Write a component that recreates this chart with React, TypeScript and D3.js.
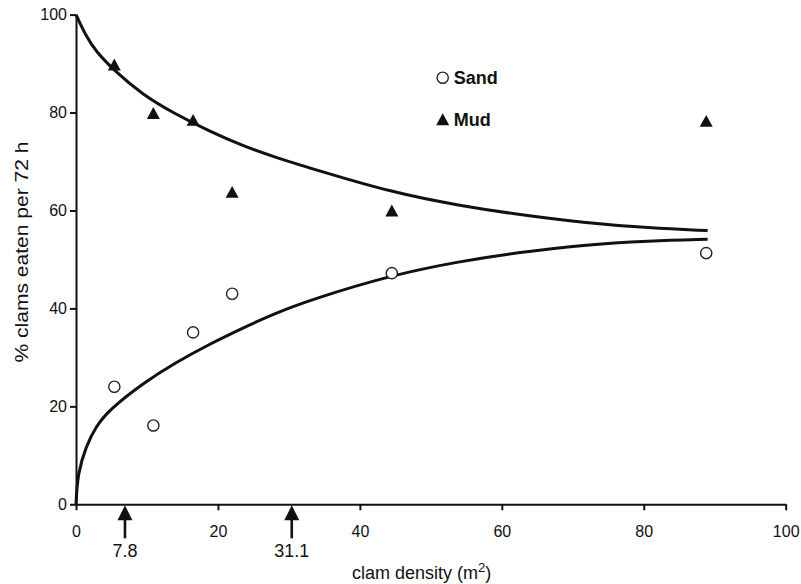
import React from 'react';
import * as d3 from "d3";

// measured points (clam density per m2 vs % eaten)
const densities = [5.4, 10.9, 16.5, 22.0, 44.5, 88.8];
const sandEaten = [24.0, 16.1, 35.1, 43.0, 47.2, 51.3];
const mudEaten = [89.8, 79.9, 78.5, 63.8, 60.0, 78.3];

// fitted curves
const sandFitX = [0, 0.24, 1.4, 2.8, 4.7, 9.4, 14.1, 18.8, 23.5, 27.9, 32.9, 44.7, 54.1, 62.1, 71.5, 80.8, 89];
const sandFitY = [0, 6.3, 11.8, 15.9, 19.3, 24.7, 29.0, 32.7, 36.0, 38.9, 41.7, 46.9, 49.6, 51.4, 53.0, 53.8, 54.1];
const mudFitX = [0, 1.4, 2.8, 5.2, 9.4, 14.1, 18.8, 23.5, 28.2, 32.9, 44.7, 54.1, 62.1, 71.5, 80.8, 89];
const mudFitY = [100, 95.6, 92.5, 88.8, 83.6, 79.6, 76.2, 73.2, 70.8, 68.7, 63.6, 61.0, 59.2, 57.5, 56.4, 55.9];

const xTicks = [0, 20, 40, 60, 80, 100];
const yTicks = [0, 20, 40, 60, 80, 100];

// arrows under the x axis
const arrowDensity = [6.9, 30.4];
const arrowLabels = ["7.8", "31.1"];

const legendLabels = ["Sand", "Mud"];

const FONT = "'Liberation Sans', Arial, sans-serif";

class ClamChart extends React.Component {

    componentDidMount(): void {
        const width = 801;
        const height = 584;

        d3.select("#clam-chart").selectAll("*").remove();

        const svg = d3.select("#clam-chart")
            .append("svg")
            .attr("width", width)
            .attr("height", height)
            .style("display", "block")
            .style("background", "#fff")
            .style("font-family", FONT);

        const x = d3.scaleLinear().domain([0, 100]).range([76, 785.7]);
        const y = d3.scaleLinear().domain([0, 100]).range([504.3, 14.6]);

        //axes
        const xAxis = svg.append("g")
            .attr("transform", "translate(0," + y(0) + ")")
            .call(d3.axisBottom(x).tickValues(xTicks).tickSize(6).tickSizeOuter(0).tickPadding(15));
        const yAxis = svg.append("g")
            .attr("transform", "translate(" + x(0) + ",0)")
            .call(d3.axisLeft(y).tickValues(yTicks).tickSize(6).tickSizeOuter(0).tickPadding(3));

        [xAxis, yAxis].forEach(a => {
            a.select(".domain").attr("stroke", "#111").attr("stroke-width", 2);
            a.selectAll(".tick line").attr("stroke", "#111").attr("stroke-width", 2);
            a.selectAll(".tick text")
                .attr("fill", "#111")
                .style("font-size", "16px")
                .style("font-family", FONT);
        });

        //fitted curves (smoothed through the read-off points)
        const line = d3.line<[number, number]>()
            .x(d => x(d[0]))
            .y(d => y(d[1]))
            .curve(d3.curveBasis);

        const sandFit = sandFitX.map((v, i) => [v, sandFitY[i]] as [number, number]);
        const mudFit = mudFitX.map((v, i) => [v, mudFitY[i]] as [number, number]);

        [sandFit, mudFit].forEach(pts => {
            svg.append("path")
                .attr("d", line(pts))
                .attr("fill", "none")
                .attr("stroke", "#111")
                .attr("stroke-width", 3);
        });

        //markers
        const tri = (cx: number, cy: number, s: number) =>
            `M ${cx} ${cy - s * 0.46} L ${cx + s / 2} ${cy + s * 0.46} L ${cx - s / 2} ${cy + s * 0.46} Z`;

        svg.append("g").selectAll("path")
            .data(densities)
            .enter()
            .append("path")
            .attr("d", (d, i) => tri(x(d), y(mudEaten[i]), 13))
            .attr("fill", "#111");

        svg.append("g").selectAll("circle")
            .data(densities)
            .enter()
            .append("circle")
            .attr("cx", d => x(d))
            .attr("cy", (d, i) => y(sandEaten[i]))
            .attr("r", 5.6)
            .attr("fill", "#fff")
            .attr("stroke", "#222")
            .attr("stroke-width", 1.4);

        //legend
        const legend = svg.append("g").attr("transform", "translate(442.7,77.7)");
        legend.append("circle")
            .attr("r", 5.6)
            .attr("fill", "#fff")
            .attr("stroke", "#222")
            .attr("stroke-width", 1.4);
        legend.append("path")
            .attr("d", tri(0, 41.6, 13))
            .attr("fill", "#111");
        legend.selectAll("text")
            .data(legendLabels)
            .enter()
            .append("text")
            .attr("x", 11)
            .attr("y", (d, i) => 6.5 + i * 41.6)
            .attr("fill", "#111")
            .style("font-size", "18px")
            .style("font-weight", "bold")
            .text(d => d);

        //arrows
        const arrows = svg.append("g").selectAll("g")
            .data(arrowDensity)
            .enter()
            .append("g")
            .attr("transform", d => "translate(" + x(d) + "," + (y(0) + 1) + ")");
        arrows.append("path")
            .attr("d", "M 0 0 L 7.5 15 L -7.5 15 Z")
            .attr("fill", "#111");
        arrows.append("rect")
            .attr("x", -1.3)
            .attr("y", 13)
            .attr("width", 2.6)
            .attr("height", 20)
            .attr("fill", "#111");
        arrows.append("text")
            .attr("y", 51.5)
            .attr("text-anchor", "middle")
            .attr("fill", "#111")
            .style("font-size", "18px")
            .text((d, i) => arrowLabels[i]);

        //axis titles
        const xTitle = svg.append("text")
            .attr("x", 352)
            .attr("y", 579)
            .attr("fill", "#111")
            .style("font-size", "18px");
        xTitle.append("tspan").text("clam density (m");
        xTitle.append("tspan").attr("dy", -7).style("font-size", "13px").text("2");
        xTitle.append("tspan").attr("dy", 7).text(")");

        svg.append("text")
            .attr("transform", "translate(28,252) rotate(-90)")
            .attr("text-anchor", "middle")
            .attr("fill", "#111")
            .attr("textLength", 221)
            .attr("lengthAdjust", "spacingAndGlyphs")
            .style("font-size", "18px")
            .text("% clams eaten per 72 h");
    }

    render() {
        return (
            <div id={"clam-chart"} style={{position: "absolute", left: 0, top: 0}}></div>
        );
    }
}

export default function App() {
    return <ClamChart/>;
}
